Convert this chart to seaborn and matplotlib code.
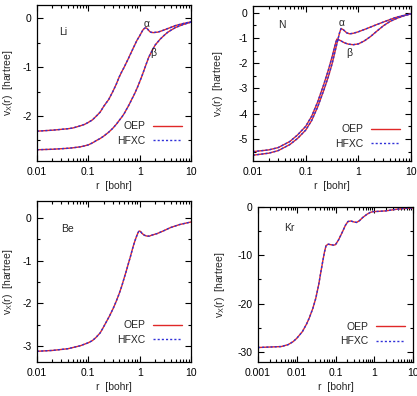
import numpy as np
import pandas as pd
import seaborn as sns
import matplotlib.pyplot as plt
from matplotlib.ticker import MultipleLocator, FixedLocator, LogLocator, NullFormatter

# --- data (r in bohr, v_x in hartree) ---
li_a_r = [0.01, 0.02, 0.04, 0.05, 0.07, 0.085, 0.1, 0.12, 0.15, 0.17, 0.2, 0.25, 0.3, 0.35, 0.4,
          0.45, 0.5, 0.55, 0.6, 0.65, 0.7, 0.75, 0.8, 0.85, 0.9, 0.95, 1.0, 1.05, 1.1, 1.15, 1.2,
          1.25, 1.3, 1.35, 1.42, 1.5, 1.6, 1.7, 1.85, 2.0, 2.25, 2.5, 3.0, 4.0, 5.0, 7.0, 10.0]
li_a_v = [-2.31, -2.29, -2.26, -2.245, -2.20, -2.17, -2.13, -2.08, -1.98, -1.92, -1.80, -1.66,
          -1.50, -1.35, -1.20, -1.09, -1.00, -0.91, -0.83, -0.75, -0.68, -0.61, -0.55, -0.49,
          -0.44, -0.40, -0.36, -0.32, -0.28, -0.245, -0.22, -0.205, -0.198, -0.20, -0.22, -0.25,
          -0.28, -0.29, -0.295, -0.29, -0.285, -0.27, -0.24, -0.19, -0.15, -0.11, -0.075]
li_b_r = [0.01, 0.02, 0.04, 0.05, 0.07, 0.085, 0.1, 0.12, 0.15, 0.17, 0.2, 0.25, 0.3, 0.35, 0.4,
          0.45, 0.5, 0.55, 0.6, 0.65, 0.7, 0.75, 0.8, 0.9, 1.0, 1.1, 1.2, 1.35, 1.5, 1.75, 2.0,
          2.5, 3.0, 3.5, 4.0, 5.0, 7.0, 10.0]
li_b_v = [-2.69, -2.68, -2.66, -2.65, -2.63, -2.61, -2.59, -2.55, -2.49, -2.46, -2.41, -2.33,
          -2.25, -2.17, -2.09, -2.02, -1.95, -1.87, -1.80, -1.73, -1.66, -1.60, -1.54, -1.42,
          -1.30, -1.19, -1.08, -0.93, -0.80, -0.66, -0.55, -0.43, -0.35, -0.29, -0.25, -0.19,
          -0.13, -0.08]

n_a_r = [0.01, 0.02, 0.03, 0.05, 0.07, 0.1, 0.13, 0.17, 0.22, 0.27, 0.32, 0.36, 0.40, 0.44, 0.47,
         0.52, 0.6, 0.68, 0.8, 1.0, 1.5, 2.2, 3.4, 5.0, 7.0, 10.0]
n_a_v = [-5.64, -5.56, -5.46, -5.22, -4.98, -4.65, -4.27, -3.72, -3.08, -2.53, -2.00, -1.55, -1.15,
         -0.80, -0.63, -0.68, -0.80, -0.84, -0.82, -0.76, -0.62, -0.48, -0.33, -0.20, -0.12, -0.05]
n_b_r = [0.01, 0.02, 0.03, 0.05, 0.07, 0.1, 0.13, 0.17, 0.22, 0.27, 0.32, 0.36, 0.39, 0.45, 0.55,
         0.65, 0.8, 1.0, 1.3, 1.7, 2.2, 3.0, 4.0, 5.5, 7.5, 10.0]
n_b_v = [-5.50, -5.43, -5.34, -5.10, -4.84, -4.50, -4.10, -3.52, -2.85, -2.27, -1.72, -1.30, -1.05,
         -1.10, -1.20, -1.25, -1.27, -1.24, -1.12, -0.95, -0.75, -0.52, -0.35, -0.22, -0.12, -0.05]

be_r = [0.01, 0.02, 0.04, 0.07, 0.1, 0.12, 0.14, 0.17, 0.19, 0.22, 0.26, 0.31, 0.35, 0.4, 0.45,
        0.49, 0.55, 0.6, 0.66, 0.72, 0.77, 0.82, 0.86, 0.9, 0.93, 0.96, 1.0, 1.05, 1.1, 1.2, 1.3,
        1.4, 1.55, 1.7, 2.2, 3.0, 4.0, 6.0, 10.0]
be_v = [-3.12, -3.10, -3.06, -2.99, -2.92, -2.87, -2.80, -2.69, -2.59, -2.45, -2.29, -2.10, -1.95,
        -1.77, -1.59, -1.44, -1.24, -1.08, -0.91, -0.74, -0.62, -0.52, -0.45, -0.39, -0.35, -0.32,
        -0.31, -0.33, -0.36, -0.40, -0.42, -0.43, -0.43, -0.41, -0.37, -0.30, -0.23, -0.16, -0.10]

kr_r = [0.001, 0.002, 0.004, 0.006, 0.008, 0.01, 0.014, 0.018, 0.021, 0.026, 0.031, 0.037, 0.042,
        0.047, 0.052, 0.057, 0.065, 0.075, 0.09, 0.1, 0.12, 0.15, 0.18, 0.21, 0.25, 0.3, 0.35, 0.42,
        0.5, 0.65, 0.8, 0.95, 1.3, 2.0, 3.5, 6.0, 10.0]
kr_v = [-29.1, -29.0, -28.9, -28.5, -27.9, -27.2, -25.8, -24.2, -23.0, -21.0, -18.9, -16.0, -13.4,
        -11.2, -9.3, -8.0, -7.7, -7.8, -7.9, -7.8, -6.8, -5.2, -3.8, -3.0, -2.9, -3.1, -3.2, -2.8,
        -2.2, -1.5, -1.1, -0.95, -0.9, -0.8, -0.5, -0.3, -0.2]

methods = ['OEP', 'HFXC']
colors = {'OEP': '#e02828', 'HFXC': '#3030d8'}


def long_table(curves):
    # OEP and HFXC coincide to drawing accuracy, so both use the same points
    rows = []
    for spin, (r, v) in curves.items():
        for m in methods:
            for ri, vi in zip(r, v):
                rows.append({'r': ri, 'v': vi, 'method': m, 'spin': spin})
    return pd.DataFrame(rows)


sns.set_style('ticks')
plt.rcParams['font.family'] = ['Liberation Sans', 'DejaVu Sans']
plt.rcParams['mathtext.fontset'] = 'custom'
plt.rcParams['mathtext.rm'] = 'Liberation Sans'
plt.rcParams['mathtext.it'] = 'Liberation Sans'
FS = 7.5
plt.rcParams['font.size'] = FS

fig = plt.figure(figsize=(4.17, 3.96), dpi=100)
W, H = 417, 396


def make_axes(l, t, r, b):
    return fig.add_axes([l / W, 1 - b / H, (r - l) / W, (b - t) / H])


panels = [
    dict(box=(37, 5, 191, 161), curves={'a': (li_a_r, li_a_v), 'b': (li_b_r, li_b_v)},
         xlim=(0.01, 10), ylim=(-2.92, 0.27), yt=[0, -1, -2], ym=0.5, name='Li',
         npos=(0.032, -0.29), alpha=(1.37, -0.12), beta=(1.8, -0.71),
         leg=(0.94, 0.096), ylc=-0.145),
    dict(box=(253, 6, 411, 161), curves={'a': (n_a_r, n_a_v), 'b': (n_b_r, n_b_v)},
         xlim=(0.01, 10), ylim=(-5.87, 0.26), yt=[0, -1, -2, -3, -4, -5], ym=0.5, name='N',
         npos=(0.035, -0.49), alpha=(0.49, -0.41), beta=(0.66, -1.59),
         leg=(0.93, 0.077), ylc=-0.177),
    dict(box=(37, 201, 191, 362), curves={'a': (be_r, be_v)},
         xlim=(0.01, 10), ylim=(-3.37, 0.39), yt=[0, -1, -2, -3], ym=0.5, name='Be',
         npos=(0.04, -0.26), alpha=None, beta=None,
         leg=(0.94, 0.105), ylc=-0.145),
    dict(box=(258, 207, 413, 362), curves={'a': (kr_r, kr_v)},
         xlim=(0.001, 10), ylim=(-32.1, 0), yt=[0, -10, -20, -30], ym=5, name='Kr',
         npos=(0.0066, -4.3), alpha=None, beta=None,
         leg=(0.95, 0.10), ylc=-0.2),
]

for p in panels:
    ax = make_axes(*p['box'])
    df = long_table(p['curves'])
    sns.lineplot(data=df, x='r', y='v', hue='method', style='method', units='spin',
                 estimator=None, hue_order=methods, style_order=methods, palette=colors,
                 dashes={'OEP': '', 'HFXC': (1.5, 1.5)}, linewidth=1.0, ax=ax)
    ax.set_xscale('log')
    ax.set_xlim(*p['xlim'])
    ax.set_ylim(*p['ylim'])
    ax.yaxis.set_major_locator(FixedLocator(p['yt']))
    ax.yaxis.set_minor_locator(MultipleLocator(p['ym']))
    ax.set_yticklabels([str(v) for v in p['yt']])
    ax.xaxis.set_major_locator(LogLocator(base=10, numticks=10))
    ax.xaxis.set_minor_locator(LogLocator(base=10, subs=np.arange(2, 10), numticks=10))
    ax.xaxis.set_minor_formatter(NullFormatter())
    ticks = [t for t in ax.get_xticks() if p['xlim'][0] * 0.99 <= t <= p['xlim'][1] * 1.01]
    ax.set_xticks(ticks)
    ax.set_xticklabels(['%g' % t for t in ticks])
    ax.tick_params(which='both', direction='in', top=True, right=True, width=0.8,
                   labelsize=FS, colors='black')
    ax.tick_params(which='major', length=4, pad=4)
    ax.tick_params(which='minor', length=2)
    for s in ax.spines.values():
        s.set_linewidth(0.9)
        s.set_color('black')
    ax.set_xlabel('r  [bohr]', fontsize=FS, labelpad=3)
    ax.set_ylabel(r'v$_{\rm X}$(r)  [hartree]', fontsize=FS)
    ax.yaxis.set_label_coords(p['ylc'], 0.5)
    ax.text(*p['npos'], p['name'], fontsize=FS, ha='center', va='center')
    if p['alpha']:
        ax.text(*p['alpha'], '\u03b1', fontsize=FS, ha='center', va='center')
        ax.text(*p['beta'], '\u03b2', fontsize=FS, ha='center', va='center')
    h, l = ax.get_legend_handles_labels()
    ax.legend(h, l, loc='lower right', bbox_to_anchor=p['leg'], frameon=False,
              markerfirst=False, handlelength=2.8, handletextpad=0.7, labelspacing=0.45,
              borderpad=0, borderaxespad=0, fontsize=FS)

fig.savefig('out.png', dpi=100)
